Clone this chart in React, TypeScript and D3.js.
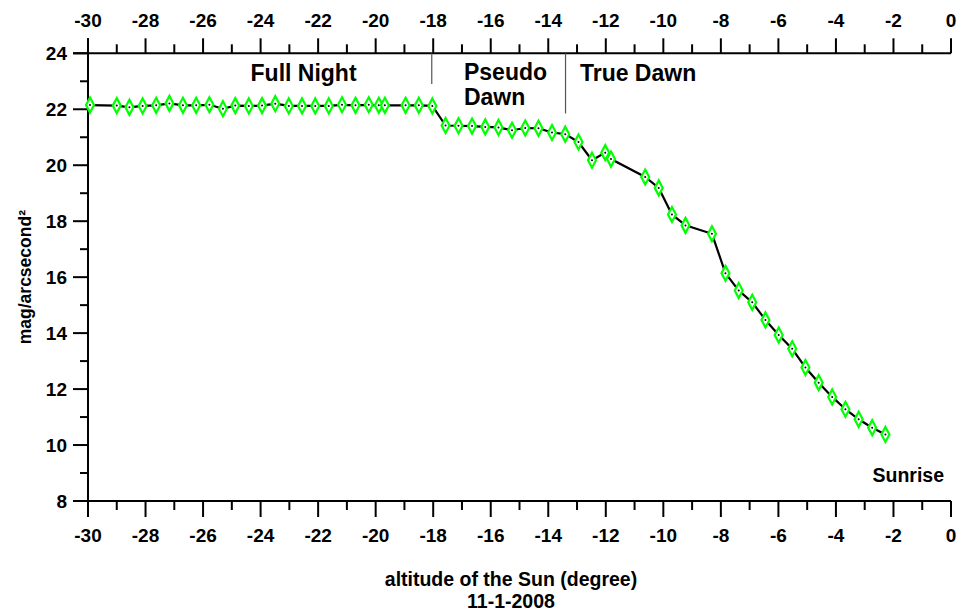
import React from "react";
import * as d3 from "d3";

// Sun altitude (degrees) and sky brightness (mag/arcsecond²), 11-1-2008
const altitude = [
  -29.93, -29.0, -28.56, -28.1, -27.63, -27.17, -26.7, -26.24, -25.78, -25.31,
  -24.88, -24.41, -23.95, -23.49, -23.02, -22.56, -22.1, -21.63, -21.17, -20.7,
  -20.24, -19.89, -19.68, -18.96, -18.5, -18.03, -17.57, -17.12, -16.65, -16.19,
  -15.73, -15.26, -14.8, -14.34, -13.87, -13.41, -12.95, -12.48, -12.02, -11.82,
  -10.63, -10.16, -9.7, -9.23, -8.31, -7.84, -7.38, -6.91, -6.45, -5.99,
  -5.52, -5.06, -4.6, -4.13, -3.67, -3.21, -2.74, -2.28,
];
const brightness = [
  22.15, 22.13, 22.07, 22.12, 22.14, 22.21, 22.14, 22.14, 22.16, 22.02,
  22.13, 22.12, 22.13, 22.2, 22.12, 22.12, 22.12, 22.12, 22.16, 22.14,
  22.16, 22.14, 22.14, 22.14, 22.14, 22.12, 21.42, 21.41, 21.4, 21.37,
  21.35, 21.25, 21.33, 21.32, 21.17, 21.11, 20.83, 20.18, 20.45, 20.22,
  19.58, 19.19, 18.24, 17.85, 17.55, 16.14, 15.52, 15.1, 14.47, 13.93,
  13.44, 12.77, 12.23, 11.72, 11.28, 10.92, 10.62, 10.38,
];

const xMajorTicks = d3.range(-30, 1, 2);
const xMinorTicks = d3.range(-29, 0, 2);
const yMajorTicks = d3.range(8, 25, 2);
const yMinorTicks = d3.range(9, 24, 2);

// Phase boundaries (sun altitude) and phase labels
const phaseBoundaries = [
  { alt: -18.05, bottom: 22.9 },
  { alt: -13.4, bottom: 21.85 },
];
const phaseLabels = [
  { alt: -24.35, value: 23.0, lines: ["Full Night"] },
  { alt: -16.93, value: 23.05, lines: ["Pseudo", "Dawn"] },
  { alt: -12.9, value: 23.0, lines: ["True Dawn"] },
];

const W = 971;
const H = 613;
const FONT = "'Liberation Sans', Arial, Helvetica, sans-serif";

export default function App() {
  const left = 88;
  const right = 951;
  const top = 53.3;
  const bottom = 501;

  const x = d3.scaleLinear().domain([-30, 0]).range([left, right]);
  const y = d3.scaleLinear().domain([8, 24]).range([bottom, top]);

  const points = altitude.map((a, i) => [a, brightness[i]] as [number, number]);
  const line = d3
    .line<[number, number]>()
    .x((d) => x(d[0]))
    .y((d) => y(d[1]));

  const diamond = (cx: number, cy: number) =>
    `M${cx},${cy - 7.5} L${cx + 4},${cy} L${cx},${cy + 7.5} L${cx - 4},${cy} Z`;

  const axisStroke = 2;

  return (
    <svg
      width={W}
      height={H}
      style={{ position: "absolute", left: 0, top: 0, background: "#fff" }}
      fontFamily={FONT}
    >
      <rect x={0} y={0} width={W} height={H} fill="#fff" />

      {/* top axis */}
      <line x1={left - 15} x2={right} y1={top} y2={top} stroke="#000" strokeWidth={axisStroke} />
      {xMajorTicks.map((t) => (
        <g key={`tt${t}`}>
          <line x1={x(t)} x2={x(t)} y1={top - 15} y2={top} stroke="#000" strokeWidth={axisStroke} />
          <text x={x(t)} y={26.5} textAnchor="middle" fontSize={19} fontWeight="bold">
            {t}
          </text>
        </g>
      ))}
      {xMinorTicks.map((t) => (
        <line key={`tm${t}`} x1={x(t)} x2={x(t)} y1={top - 9} y2={top} stroke="#000" strokeWidth={axisStroke} />
      ))}

      {/* bottom axis */}
      <line x1={left - 15} x2={right} y1={bottom} y2={bottom} stroke="#000" strokeWidth={axisStroke} />
      {xMajorTicks.map((t) => (
        <g key={`bt${t}`}>
          <line x1={x(t)} x2={x(t)} y1={bottom} y2={bottom + 16} stroke="#000" strokeWidth={axisStroke} />
          <text x={x(t)} y={542} textAnchor="middle" fontSize={19} fontWeight="bold">
            {t}
          </text>
        </g>
      ))}
      {xMinorTicks.map((t) => (
        <line key={`bm${t}`} x1={x(t)} x2={x(t)} y1={bottom} y2={bottom + 9} stroke="#000" strokeWidth={axisStroke} />
      ))}

      {/* left axis */}
      <line x1={left} x2={left} y1={top - 15} y2={bottom + 16} stroke="#000" strokeWidth={axisStroke} />
      {yMajorTicks.map((t) => (
        <g key={`yt${t}`}>
          <line x1={left - 15} x2={left} y1={y(t)} y2={y(t)} stroke="#000" strokeWidth={axisStroke} />
          <text x={67} y={y(t)} dy="0.36em" textAnchor="end" fontSize={19} fontWeight="bold">
            {t}
          </text>
        </g>
      ))}
      {yMinorTicks.map((t) => (
        <line key={`ym${t}`} x1={left - 8} x2={left} y1={y(t)} y2={y(t)} stroke="#000" strokeWidth={axisStroke} />
      ))}

      {/* axis titles */}
      <text
        transform={`translate(31,${(top + bottom) / 2}) rotate(-90)`}
        textAnchor="middle"
        fontSize={17.5}
        fontWeight="bold"
      >
        mag/arcsecond²
      </text>
      <text x={511} y={586} textAnchor="middle" fontSize={19.5} fontWeight="bold">
        altitude of the Sun (degree)
      </text>
      <text x={511} y={607.5} textAnchor="middle" fontSize={19.5} fontWeight="bold">
        11-1-2008
      </text>

      {/* phase boundaries */}
      {phaseBoundaries.map((b) => (
        <line
          key={`pb${b.alt}`}
          x1={x(b.alt)}
          x2={x(b.alt)}
          y1={top}
          y2={y(b.bottom)}
          stroke="#555"
          strokeWidth={1.2}
        />
      ))}
      {phaseLabels.map((p) => (
        <text key={p.lines[0]} x={x(p.alt)} y={y(p.value)} fontSize={23} fontWeight="bold">
          {p.lines.map((l, i) => (
            <tspan key={l} x={x(p.alt)} dy={i === 0 ? 0 : 25}>
              {l}
            </tspan>
          ))}
        </text>
      ))}
      <text x={872.5} y={481.5} fontSize={19.5} fontWeight="bold">
        Sunrise
      </text>

      {/* brightness curve */}
      <path d={line(points) ?? ""} fill="none" stroke="#000" strokeWidth={2.2} />
      {points.map((p, i) => (
        <g key={`pt${i}`}>
          <path d={diamond(x(p[0]), y(p[1]))} fill="#fff" stroke="#00ff00" strokeWidth={2.2} />
          <circle cx={x(p[0])} cy={y(p[1])} r={1} fill="#000" />
        </g>
      ))}
    </svg>
  );
}
